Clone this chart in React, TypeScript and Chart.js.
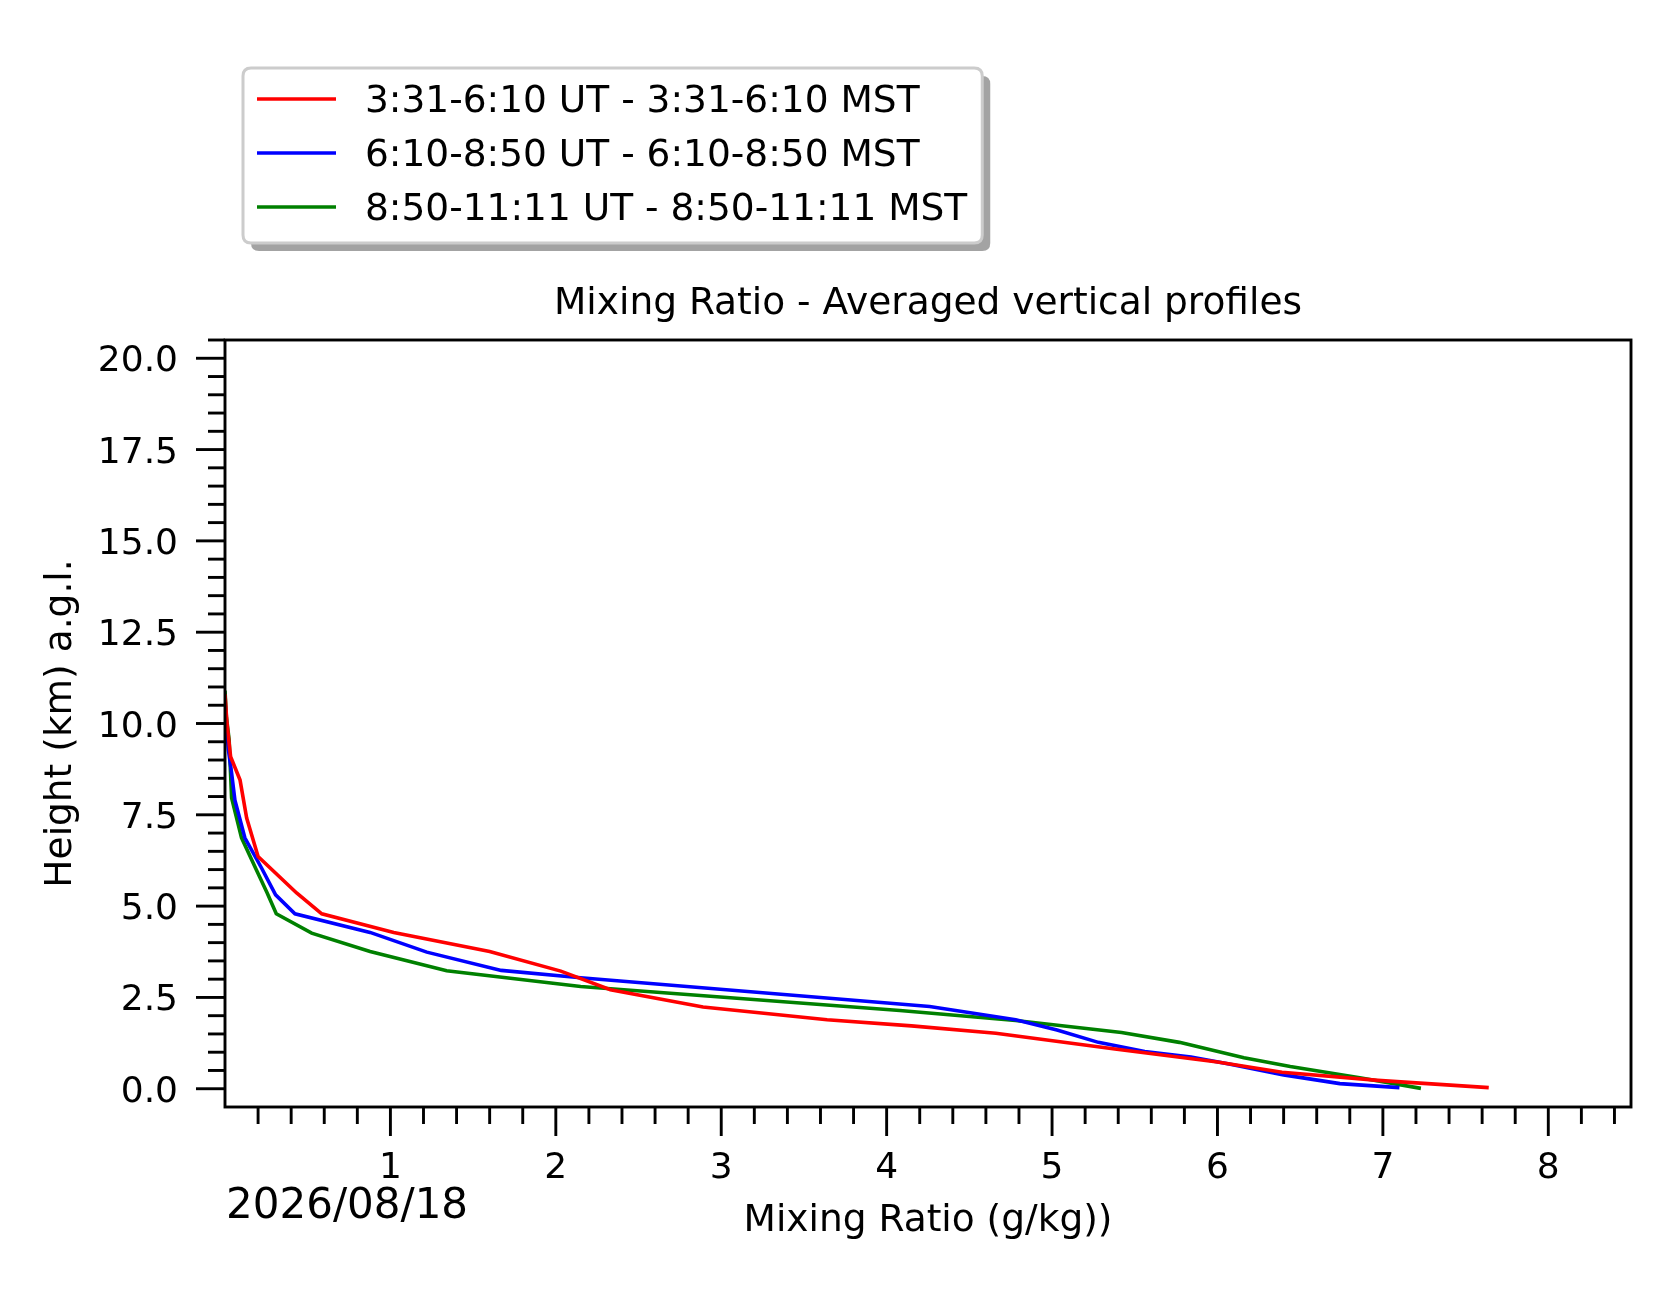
import React, { useEffect, useRef } from "react";
import { Chart, registerables } from "chart.js";

Chart.register(...registerables);

// ---- Data (mixing ratio g/kg vs height km) ----
const seriesLabels = [
  "3:31-6:10 UT - 3:31-6:10 MST",
  "6:10-8:50 UT - 6:10-8:50 MST",
  "8:50-11:11 UT - 8:50-11:11 MST",
];
const seriesColors = ["#ff0000", "#0000ff", "#008000"];

const redHeights = [0.03, 0.23, 0.45, 0.73, 1.09, 1.52, 1.72, 1.89, 2.24, 2.71, 3.22, 3.76, 4.28, 4.79, 5.36, 6.36, 7.41, 8.45, 9.09, 10.0, 10.8];
const redValues = [7.64, 6.97, 6.39, 6.0, 5.38, 4.66, 4.15, 3.64, 2.89, 2.33, 2.03, 1.6, 1.02, 0.585, 0.433, 0.2, 0.131, 0.091, 0.034, 0.012, 0.0];

const blueHeights = [0.03, 0.14, 0.38, 0.68, 0.87, 1.02, 1.27, 1.61, 1.89, 2.25, 3.04, 3.24, 3.74, 4.28, 4.79, 5.31, 6.05, 6.87, 7.9, 8.64, 9.3, 10.0, 10.6];
const blueValues = [7.1, 6.74, 6.4, 6.07, 5.84, 5.56, 5.28, 5.03, 4.78, 4.26, 2.15, 1.67, 1.22, 0.877, 0.423, 0.306, 0.22, 0.12, 0.06, 0.04, 0.02, 0.008, 0.0];

const greenHeights = [0.01, 0.3, 0.61, 0.85, 1.27, 1.54, 1.87, 2.14, 2.8, 3.23, 3.76, 4.26, 4.79, 5.36, 5.99, 6.87, 7.96, 9.55, 10.2, 10.9];
const greenValues = [7.23, 6.86, 6.44, 6.16, 5.77, 5.42, 4.78, 4.08, 2.15, 1.34, 0.877, 0.524, 0.31, 0.255, 0.19, 0.1, 0.04, 0.025, 0.008, 0.0];

const xMajorTicks = [1, 2, 3, 4, 5, 6, 7, 8];
const yMajorTicks = [0, 2.5, 5, 7.5, 10, 12.5, 15, 17.5, 20];
const yTickLabels = ["0.0", "2.5", "5.0", "7.5", "10.0", "12.5", "15.0", "17.5", "20.0"];

const titleText = "Mixing Ratio - Averaged vertical profiles";
const xTitle = "Mixing Ratio (g/kg))";
const yTitle = "Height (km) a.g.l.";
const dateText = "2026/08/18";

const FONT = '"DejaVu Sans", sans-serif';

export default function App() {
  const canvasRef = useRef<HTMLCanvasElement | null>(null);

  useEffect(() => {
    const canvas = canvasRef.current;
    if (!canvas) return;

    const mk = (hs: number[], vs: number[]) => hs.map((h, i) => ({ x: vs[i], y: h }));

    const decor = {
      id: "decor",
      afterDatasetsDraw(chart: any) {
        const ctx = chart.ctx;
        const xs = chart.scales.x;
        const ys = chart.scales.y;
        const a = chart.chartArea;
        ctx.save();
        ctx.strokeStyle = "#000";
        ctx.lineWidth = 2.9;
        ctx.lineCap = "butt";
        for (let i = 1; i <= 42; i++) {
          const v = i * 0.2;
          const isMajor = Math.abs(v - Math.round(v)) < 1e-6;
          const px = xs.getPixelForValue(v);
          ctx.beginPath();
          ctx.moveTo(px, a.bottom);
          ctx.lineTo(px, a.bottom + (isMajor ? 29 : 17));
          ctx.stroke();
        }
        for (let i = 0; i <= 41; i++) {
          const v = i * 0.5;
          const isMajor = Math.abs(v / 2.5 - Math.round(v / 2.5)) < 1e-6;
          const py = ys.getPixelForValue(v);
          ctx.beginPath();
          ctx.moveTo(a.left, py);
          ctx.lineTo(a.left - (isMajor ? 29 : 17), py);
          ctx.stroke();
        }
        ctx.lineJoin = "miter";
        ctx.strokeRect(a.left, a.top, a.right - a.left, a.bottom - a.top);
        ctx.restore();
      },
      afterDraw(chart: any) {
        const ctx = chart.ctx;
        const xs = chart.scales.x;
        const ys = chart.scales.y;
        const a = chart.chartArea;
        ctx.save();
        ctx.fillStyle = "#000";
        ctx.font = `36px ${FONT}`;
        ctx.textAlign = "center";
        ctx.textBaseline = "alphabetic";
        xMajorTicks.forEach((v) => {
          ctx.fillText(String(v), xs.getPixelForValue(v), 1178);
        });
        ctx.textAlign = "right";
        yMajorTicks.forEach((v, i) => {
          ctx.fillText(yTickLabels[i], 178, ys.getPixelForValue(v) + 13);
        });
        ctx.font = `37.5px ${FONT}`;
        ctx.textAlign = "center";
        ctx.fillText(titleText, (a.left + a.right) / 2, 314);
        ctx.fillText(xTitle, (a.left + a.right) / 2, 1231);
        ctx.save();
        ctx.translate(71, (a.top + a.bottom) / 2);
        ctx.rotate(-Math.PI / 2);
        ctx.textAlign = "center";
        ctx.fillText(yTitle, 0, 0);
        ctx.restore();
        ctx.font = `42px ${FONT}`;
        ctx.textAlign = "left";
        ctx.fillText(dateText, 226, 1218);

        // legend
        ctx.font = `37.5px ${FONT}`;
        const textX = 365;
        let maxW = 0;
        seriesLabels.forEach((l) => (maxW = Math.max(maxW, ctx.measureText(l).width)));
        const bx = 243, by = 68, bw = textX + maxW + 15 - bx, bh = 175, r = 8;
        const rr = (x: number, y: number, w: number, h: number) => {
          ctx.beginPath();
          ctx.moveTo(x + r, y);
          ctx.lineTo(x + w - r, y);
          ctx.quadraticCurveTo(x + w, y, x + w, y + r);
          ctx.lineTo(x + w, y + h - r);
          ctx.quadraticCurveTo(x + w, y + h, x + w - r, y + h);
          ctx.lineTo(x + r, y + h);
          ctx.quadraticCurveTo(x, y + h, x, y + h - r);
          ctx.lineTo(x, y + r);
          ctx.quadraticCurveTo(x, y, x + r, y);
          ctx.closePath();
        };
        rr(bx + 8, by + 8, bw, bh);
        ctx.fillStyle = "#a3a3a3";
        ctx.fill();
        rr(bx, by, bw, bh);
        ctx.fillStyle = "#ffffff";
        ctx.fill();
        ctx.strokeStyle = "#cccccc";
        ctx.lineWidth = 3;
        ctx.stroke();
        const rows = [99, 153, 207];
        seriesLabels.forEach((l, i) => {
          ctx.strokeStyle = seriesColors[i];
          ctx.lineWidth = 3.6;
          ctx.beginPath();
          ctx.moveTo(257, rows[i]);
          ctx.lineTo(336, rows[i]);
          ctx.stroke();
          ctx.fillStyle = "#000";
          ctx.textAlign = "left";
          ctx.fillText(l, textX, rows[i] + 13);
        });
        ctx.restore();
      },
    };

    const chart = new Chart(canvas, {
      type: "scatter",
      data: {
        datasets: [
          { label: seriesLabels[0], data: mk(redHeights, redValues), borderColor: seriesColors[0], backgroundColor: seriesColors[0], borderWidth: 3.6, showLine: true, pointRadius: 0, fill: false, tension: 0 },
          { label: seriesLabels[1], data: mk(blueHeights, blueValues), borderColor: seriesColors[1], backgroundColor: seriesColors[1], borderWidth: 3.6, showLine: true, pointRadius: 0, fill: false, tension: 0 },
          { label: seriesLabels[2], data: mk(greenHeights, greenValues), borderColor: seriesColors[2], backgroundColor: seriesColors[2], borderWidth: 3.6, showLine: true, pointRadius: 0, fill: false, tension: 0 },
        ],
      },
      options: {
        responsive: false,
        animation: false,
        devicePixelRatio: 1,
        layout: { padding: { left: 225, top: 340, right: 45, bottom: 196 } },
        plugins: { legend: { display: false }, tooltip: { enabled: false }, title: { display: false } },
        scales: {
          x: { type: "linear", min: 0, max: 8.5, display: false },
          y: { type: "linear", min: -0.5, max: 20.5, display: false },
        },
      },
      plugins: [decor],
    });
    return () => chart.destroy();
  }, []);

  return (
    <div style={{ position: "absolute", left: 0, top: 0, width: 1676, height: 1303, background: "#fff" }}>
      <canvas ref={canvasRef} width={1676} height={1303} style={{ width: 1676, height: 1303, display: "block" }} />
    </div>
  );
}
